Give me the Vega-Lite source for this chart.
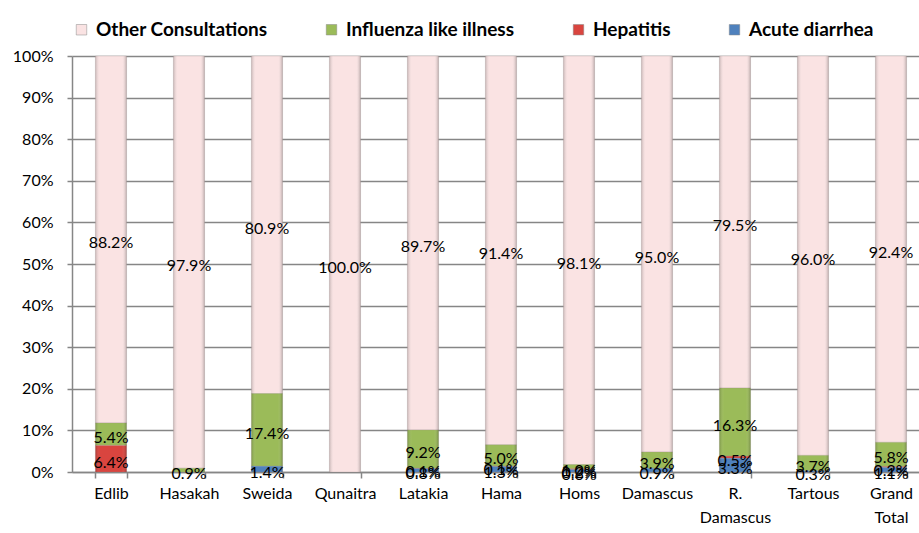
{
  "$schema": "https://vega.github.io/schema/vega-lite/v6.json",
  "width": 858,
  "height": 416,
  "padding": {"left": 12, "top": 20, "right": 0, "bottom": 5},
  "background": "white",
  "config": {
    "font": "Lato",
    "view": {"stroke": null},
    "axis": {"labelFont": "Lato", "labelFontSize": 16, "labelColor": "#000000"}
  },
  "data": {
    "values": [
      {"region": "Edlib", "series": "Other Consultations", "v": 0.882},
      {"region": "Edlib", "series": "Influenza like illness", "v": 0.054},
      {"region": "Edlib", "series": "Hepatitis", "v": 0.064},
      {"region": "Hasakah", "series": "Other Consultations", "v": 0.979},
      {"region": "Hasakah", "series": "Influenza like illness", "v": 0.009},
      {"region": "Sweida", "series": "Other Consultations", "v": 0.809},
      {"region": "Sweida", "series": "Influenza like illness", "v": 0.174},
      {"region": "Sweida", "series": "Acute diarrhea", "v": 0.014},
      {"region": "Qunaitra", "series": "Other Consultations", "v": 1.0},
      {"region": "Latakia", "series": "Other Consultations", "v": 0.897},
      {"region": "Latakia", "series": "Influenza like illness", "v": 0.092},
      {"region": "Latakia", "series": "Hepatitis", "v": 0.001},
      {"region": "Latakia", "series": "Acute diarrhea", "v": 0.008},
      {"region": "Hama", "series": "Other Consultations", "v": 0.914},
      {"region": "Hama", "series": "Influenza like illness", "v": 0.05},
      {"region": "Hama", "series": "Hepatitis", "v": 0.001},
      {"region": "Hama", "series": "Acute diarrhea", "v": 0.013},
      {"region": "Homs", "series": "Other Consultations", "v": 0.981},
      {"region": "Homs", "series": "Influenza like illness", "v": 0.01},
      {"region": "Homs", "series": "Hepatitis", "v": 0.002},
      {"region": "Homs", "series": "Acute diarrhea", "v": 0.006},
      {"region": "Damascus", "series": "Other Consultations", "v": 0.95},
      {"region": "Damascus", "series": "Influenza like illness", "v": 0.039},
      {"region": "Damascus", "series": "Acute diarrhea", "v": 0.009},
      {"region": "R. Damascus", "series": "Other Consultations", "v": 0.795},
      {"region": "R. Damascus", "series": "Influenza like illness", "v": 0.163},
      {"region": "R. Damascus", "series": "Hepatitis", "v": 0.005},
      {"region": "R. Damascus", "series": "Acute diarrhea", "v": 0.033},
      {"region": "Tartous", "series": "Other Consultations", "v": 0.96},
      {"region": "Tartous", "series": "Influenza like illness", "v": 0.037},
      {"region": "Tartous", "series": "Acute diarrhea", "v": 0.003},
      {"region": "Grand Total", "series": "Other Consultations", "v": 0.924},
      {"region": "Grand Total", "series": "Influenza like illness", "v": 0.058},
      {"region": "Grand Total", "series": "Hepatitis", "v": 0.002},
      {"region": "Grand Total", "series": "Acute diarrhea", "v": 0.011}
    ]
  },
  "transform": [
    {"calculate": "indexof(['Acute diarrhea','Hepatitis','Influenza like illness','Other Consultations'], datum.series)", "as": "k"},
    {"stack": "v", "groupby": ["region"], "sort": [{"field": "k", "order": "ascending"}], "as": ["y0", "y1"], "offset": "normalize"},
    {"calculate": "(datum.y0 + datum.y1) / 2", "as": "ym"}
  ],
  "encoding": {
    "x": {
      "field": "region",
      "type": "nominal",
      "sort": null,
      "title": null,
      "scale": {"paddingInner": 0.6, "paddingOuter": 0.3},
      "axis": {
        "labelAngle": 0,
        "tickBand": "extent",
        "domainColor": "#868686",
        "domainWidth": 1.5,
        "tickColor": "#868686",
        "tickWidth": 1.5,
        "tickSize": 6,
        "labelPadding": 7,
        "labelLineHeight": 24,
        "labelBaseline": "top",
        "labelExpr": "datum.value == 'R. Damascus' ? ['R.', 'Damascus'] : datum.value == 'Grand Total' ? ['Grand', 'Total'] : datum.value"
      }
    }
  },
  "layer": [
    {
      "mark": {"type": "bar", "stroke": "#9a8a8a", "strokeWidth": 0.4, "strokeOpacity": 0.6},
      "encoding": {
        "y": {
          "field": "y0",
          "type": "quantitative",
          "title": null,
          "scale": {"domain": [0, 1], "nice": false},
          "axis": {
            "format": ".0%",
            "values": [0, 0.1, 0.2, 0.3, 0.4, 0.5, 0.6, 0.7, 0.8, 0.9, 1.0],
            "grid": true,
            "gridColor": "#868686",
            "gridWidth": 1.5,
            "domainColor": "#868686",
            "domainWidth": 1.5,
            "tickColor": "#868686",
            "tickWidth": 1.5,
            "tickSize": 5,
            "labelPadding": 14
          }
        },
        "y2": {"field": "y1"},
        "color": {
          "field": "series",
          "type": "nominal",
          "sort": ["Other Consultations", "Influenza like illness", "Hepatitis", "Acute diarrhea"],
          "scale": {
            "domain": ["Other Consultations", "Influenza like illness", "Hepatitis", "Acute diarrhea"],
            "range": ["#FAE3E3", "#9BBB59", "#D9453F", "#4F81BD"]
          },
          "legend": {
            "title": null,
            "orient": "top",
            "direction": "horizontal",
            "symbolType": "square",
            "symbolSize": 110,
            "symbolStrokeColor": "#888888",
            "symbolStrokeWidth": 0.5,
            "labelFont": "Lato",
            "labelFontSize": 19,
            "labelFontWeight": "bold",
            "labelColor": "#000000",
            "labelLimit": 400,
            "labelOffset": 5,
            "columnPadding": 54,
            "offset": 16,
            "padding": 0
          }
        }
      }
    },
    {
      "mark": {
        "type": "bar",
        "color": {
          "gradient": "linear",
          "x1": 0, "x2": 1, "y1": 0, "y2": 0,
          "stops": [
            {"offset": 0, "color": "rgba(0,0,0,0.2)"},
            {"offset": 0.15, "color": "rgba(255,255,255,0.0)"},
            {"offset": 0.85, "color": "rgba(255,255,255,0.0)"},
            {"offset": 1, "color": "rgba(0,0,0,0.25)"}
          ]
        }
      },
      "encoding": {
        "y": {"field": "y0", "type": "quantitative"},
        "y2": {"field": "y1"}
      }
    },
    {
      "mark": {"type": "text", "font": "Lato", "fontSize": 16, "color": "#000000", "baseline": "middle", "align": "center", "dy": 4},
      "encoding": {
        "y": {"field": "ym", "type": "quantitative"},
        "text": {"field": "v", "type": "quantitative", "format": ".1%"}
      }
    }
  ]
}
